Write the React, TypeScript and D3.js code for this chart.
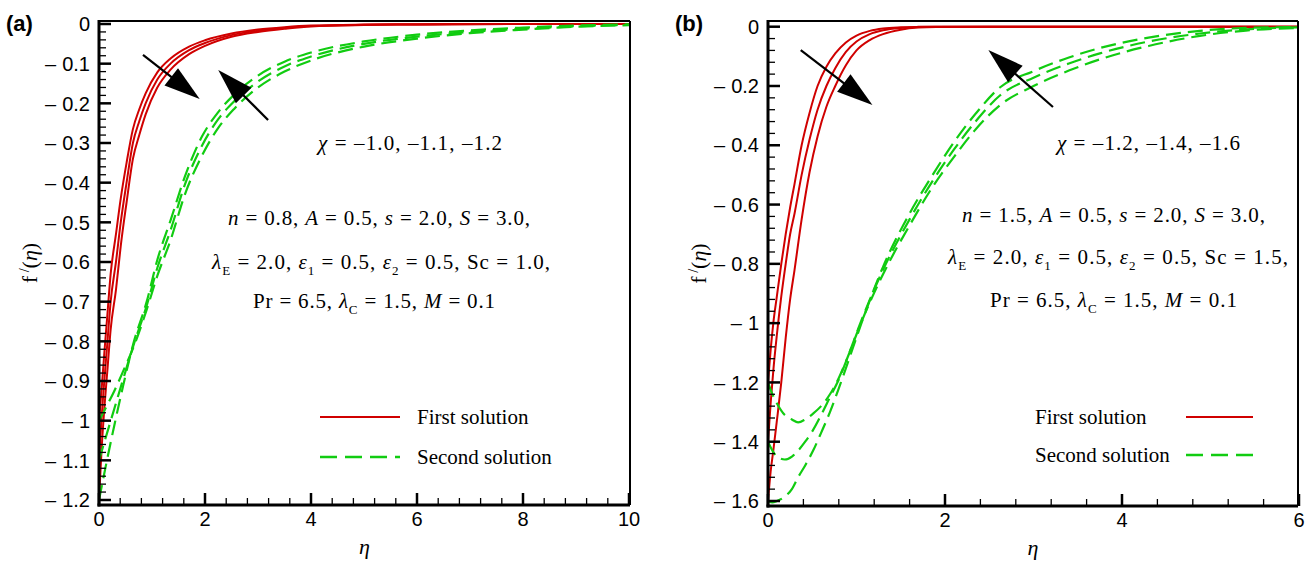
import React from "react";
import * as d3 from "d3";

// ---------------- DATA ----------------
// Panel (a): chi = -1.0, -1.1, -1.2
const etaRedA = [0, 0.05, 0.1, 0.16, 0.22, 0.32, 0.41, 0.52, 0.64, 0.76, 0.88, 1.1, 1.35, 1.7, 2.0, 2.5, 3.0, 3.5, 4, 5, 6, 8, 10];
const redA_m10 = [-1.0, -0.92, -0.83, -0.73, -0.63, -0.53, -0.44, -0.35, -0.265, -0.215, -0.175, -0.122, -0.087, -0.057, -0.041, -0.024, -0.014, -0.008, -0.004, -0.0015, -0.0007, 0, 0];
const redA_m11 = [-1.1, -0.99, -0.9, -0.8, -0.7, -0.6, -0.5, -0.4, -0.3, -0.245, -0.2, -0.14, -0.1, -0.066, -0.048, -0.028, -0.017, -0.01, -0.005, -0.002, -0.001, 0, 0];
const redA_m12 = [-1.2, -1.07, -0.97, -0.87, -0.77, -0.67, -0.56, -0.45, -0.34, -0.28, -0.228, -0.16, -0.115, -0.076, -0.055, -0.032, -0.02, -0.012, -0.006, -0.0025, -0.0012, 0, 0];

const etaGreenA = [0, 0.15, 0.3, 0.45, 0.65, 0.9, 1.1, 1.35, 1.62, 1.95, 2.25, 2.55, 3.0, 3.5, 4, 5, 6, 7, 8, 9, 10];
const greenA_m10 = [-1.0, -0.962, -0.922, -0.877, -0.815, -0.72, -0.635, -0.545, -0.43, -0.33, -0.262, -0.214, -0.16, -0.12, -0.092, -0.057, -0.037, -0.023, -0.014, -0.007, -0.003];
const greenA_m11 = [-1.1, -1.032, -0.965, -0.898, -0.81, -0.71, -0.615, -0.52, -0.405, -0.305, -0.24, -0.195, -0.145, -0.107, -0.082, -0.05, -0.032, -0.02, -0.012, -0.006, -0.002];
const greenA_m12 = [-1.2, -1.1, -1.005, -0.915, -0.805, -0.7, -0.595, -0.495, -0.385, -0.282, -0.222, -0.178, -0.13, -0.095, -0.072, -0.044, -0.027, -0.016, -0.009, -0.004, -0.001];

// Panel (b): chi = -1.2, -1.4, -1.6
const etaRedB = [0, 0.03, 0.06, 0.1, 0.15, 0.2, 0.25, 0.3, 0.38, 0.47, 0.56, 0.66, 0.76, 0.88, 1.0, 1.15, 1.3, 1.5, 1.7, 1.9, 2.5, 4, 6];
const redB_m12 = [-1.2, -1.09, -1.0, -0.91, -0.8, -0.7, -0.61, -0.53, -0.4, -0.29, -0.2, -0.135, -0.09, -0.053, -0.03, -0.014, -0.006, -0.002, -0.0005, 0, 0, 0, 0];
const redB_m14 = [-1.4, -1.27, -1.16, -1.04, -0.91, -0.8, -0.7, -0.63, -0.5, -0.38, -0.28, -0.2, -0.14, -0.085, -0.05, -0.025, -0.012, -0.004, -0.001, 0, 0, 0, 0];
const redB_m16 = [-1.6, -1.5, -1.43, -1.33, -1.2, -1.05, -0.92, -0.82, -0.65, -0.49, -0.37, -0.27, -0.2, -0.13, -0.08, -0.045, -0.025, -0.01, -0.003, -0.001, 0, 0, 0];

const etaGreenB = [0, 0.05, 0.1, 0.19, 0.27, 0.34, 0.42, 0.51, 0.6, 0.7, 0.8, 0.9, 1.05, 1.3, 1.6, 1.85, 2.1, 2.35, 2.62, 3.0, 3.4, 3.75, 4.3, 4.88, 5.4, 6.0];
const greenB_m12 = [-1.2, -1.24, -1.27, -1.31, -1.325, -1.335, -1.325, -1.305, -1.28, -1.24, -1.185, -1.115, -1.0, -0.835, -0.67, -0.545, -0.44, -0.345, -0.265, -0.2, -0.148, -0.11, -0.065, -0.031, -0.013, -0.004];
const greenB_m14 = [-1.4, -1.43, -1.45, -1.46, -1.45, -1.43, -1.4, -1.36, -1.31, -1.25, -1.19, -1.115, -0.995, -0.82, -0.65, -0.525, -0.415, -0.318, -0.232, -0.172, -0.124, -0.09, -0.05, -0.023, -0.009, -0.002];
const greenB_m16 = [-1.6, -1.605, -1.6, -1.585, -1.56, -1.52, -1.48, -1.43, -1.37, -1.3, -1.22, -1.135, -1.005, -0.81, -0.63, -0.505, -0.39, -0.292, -0.205, -0.15, -0.104, -0.072, -0.037, -0.014, -0.004, -0.001];

// Ticks
const xTicksA = [0, 2, 4, 6, 8, 10];
const yTicksA = [0, -0.1, -0.2, -0.3, -0.4, -0.5, -0.6, -0.7, -0.8, -0.9, -1, -1.1, -1.2];
const xTicksB = [0, 2, 4, 6];
const yTicksB = [0, -0.2, -0.4, -0.6, -0.8, -1, -1.2, -1.4, -1.6];

// Arrows in data units [tailEta, tailF, tipEta, tipF]
const arrowsA = [
  [0.83, -0.078, 1.9, -0.189],
  [3.19, -0.242, 2.25, -0.116],
];
const arrowsB = [
  [0.37, -0.079, 1.18, -0.264],
  [3.22, -0.271, 2.49, -0.079],
];

// Texts
type Seg = { t: string; i?: boolean; sub?: boolean };
const chiA: Seg[] = [{ t: "χ", i: true }, { t: " = –1.0, –1.1, –1.2" }];
const chiB: Seg[] = [{ t: "χ", i: true }, { t: " = –1.2, –1.4, –1.6" }];
const paramsA: Seg[][] = [
  [{ t: "n", i: true }, { t: " = 0.8, " }, { t: "A", i: true }, { t: " = 0.5, " }, { t: "s", i: true }, { t: " = 2.0, " }, { t: "S", i: true }, { t: " = 3.0," }],
  [{ t: "λ", i: true }, { t: "E", sub: true }, { t: " = 2.0, " }, { t: "ε", i: true }, { t: "1", sub: true }, { t: " = 0.5, " }, { t: "ε", i: true }, { t: "2", sub: true }, { t: " = 0.5, Sc = 1.0," }],
  [{ t: "Pr = 6.5,  " }, { t: "λ", i: true }, { t: "C", sub: true }, { t: " = 1.5, " }, { t: "M", i: true }, { t: " = 0.1" }],
];
const paramsB: Seg[][] = [
  [{ t: "n", i: true }, { t: " = 1.5, " }, { t: "A", i: true }, { t: " = 0.5, " }, { t: "s", i: true }, { t: " = 2.0, " }, { t: "S", i: true }, { t: " = 3.0," }],
  [{ t: "λ", i: true }, { t: "E", sub: true }, { t: " = 2.0, " }, { t: "ε", i: true }, { t: "1", sub: true }, { t: " = 0.5, " }, { t: "ε", i: true }, { t: "2", sub: true }, { t: " = 0.5, Sc = 1.5," }],
  [{ t: "Pr = 6.5,  " }, { t: "λ", i: true }, { t: "C", sub: true }, { t: " = 1.5,  " }, { t: "M", i: true }, { t: " = 0.1" }],
];
const legendLabels = ["First solution", "Second solution"];

// ---------------- STYLE ----------------
const RED = "#d00000";
const GREEN = "#11cc11";
const SERIF = "'Liberation Serif', 'Times New Roman', serif";
const SANS = "'Liberation Sans', Arial, Helvetica, sans-serif";
const DASH = "15,7";

function Rich({ x, y, segs, size, width }: { x: number; y: number; segs: Seg[]; size: number; width?: number }) {
  let shifted = false;
  const sh = size * 0.28;
  return (
    <text x={x} y={y} fontFamily={SERIF} fontSize={size} fill="#000" textLength={width} lengthAdjust="spacing">
      {segs.map((s, k) => {
        let dy = 0;
        if (s.sub && !shifted) { dy = sh; shifted = true; }
        else if (!s.sub && shifted) { dy = -sh; shifted = false; }
        return (
          <tspan key={k} dy={dy || undefined} fontStyle={s.i ? "italic" : "normal"} fontSize={s.sub ? size * 0.62 : size}>
            {s.t}
          </tspan>
        );
      })}
    </text>
  );
}

function Arrow({ x1, y1, x2, y2 }: { x1: number; y1: number; x2: number; y2: number }) {
  const dx = x2 - x1, dy = y2 - y1;
  const L = Math.hypot(dx, dy);
  const ux = dx / L, uy = dy / L;
  const hl = 36, hw = 11;
  const bx = x2 - ux * hl, by = y2 - uy * hl;
  const px = -uy, py = ux;
  return (
    <g>
      <line x1={x1} y1={y1} x2={bx + ux * 4} y2={by + uy * 4} stroke="#000" strokeWidth={2.2} />
      <polygon points={`${x2},${y2} ${bx + px * hw},${by + py * hw} ${bx - px * hw},${by - py * hw}`} fill="#000" />
    </g>
  );
}

type PanelProps = {
  id: string;
  label: string;
  left: number; right: number; top: number; bottom: number;
  xDomain: [number, number]; xRange: [number, number];
  yDomain: [number, number]; yRange: [number, number];
  xTicks: number[]; yTicks: number[]; xMinor: number; yMinor: number;
  red: { eta: number[]; series: number[][] };
  green: { eta: number[]; series: number[][] };
  arrows: number[][];
  chi: Seg[]; chiPos: [number, number, number];
  params: Seg[][]; paramPos: [number, number, number][];
  legend: { lineX: [number, number]; textX: number; ys: [number, number] };
};

function Panel(p: PanelProps) {
  const x = d3.scaleLinear().domain(p.xDomain).range(p.xRange);
  const y = d3.scaleLinear().domain(p.yDomain).range(p.yRange);
  const line = d3.line<[number, number]>().x((d) => x(d[0])).y((d) => y(d[1])).curve(d3.curveMonotoneX);
  const mk = (eta: number[], vals: number[]) => line(eta.map((e, i) => [e, vals[i]] as [number, number])) || "";
  const xMinorTicks = d3.range(p.xDomain[0], p.xDomain[1] + 1e-9, p.xMinor).filter((v) => !p.xTicks.some((t) => Math.abs(t - v) < 1e-6));
  const yMin = Math.min(...p.yTicks);
  const yMinorTicks = d3.range(0, yMin - 1e-9, -p.yMinor).filter((v) => !p.yTicks.some((t) => Math.abs(t - v) < 1e-6));
  const clipId = "clip-" + p.id;
  const axW = 3;
  return (
    <g>
      <defs>
        <clipPath id={clipId}>
          <rect x={p.left} y={p.top} width={p.right - p.left} height={p.bottom - p.top} />
        </clipPath>
      </defs>
      <g clipPath={`url(#${clipId})`}>
        {p.red.series.map((s, k) => (
          <path key={"r" + k} d={mk(p.red.eta, s)} fill="none" stroke={RED} strokeWidth={2} />
        ))}
        {p.green.series.map((s, k) => (
          <path key={"g" + k} d={mk(p.green.eta, s)} fill="none" stroke={GREEN} strokeWidth={2.2} strokeDasharray={DASH} />
        ))}
      </g>
      {/* frame */}
      <line x1={p.left} y1={p.top} x2={p.right} y2={p.top} stroke="#000" strokeWidth={2} />
      <line x1={p.right} y1={p.top} x2={p.right} y2={p.bottom} stroke="#000" strokeWidth={2} />
      <line x1={p.left} y1={p.top - 1} x2={p.left} y2={p.bottom + 1.5} stroke="#000" strokeWidth={axW} />
      <line x1={p.left - 1.5} y1={p.bottom} x2={p.right} y2={p.bottom} stroke="#000" strokeWidth={axW} />
      {/* y ticks */}
      {p.yTicks.map((v) => (
        <g key={"yt" + v}>
          <line x1={p.left} x2={p.left + 12} y1={y(v)} y2={y(v)} stroke="#000" strokeWidth={2.5} />
          <text x={p.left - 9} y={y(v)} dy="0.36em" textAnchor="end" fontFamily={SANS} fontSize={20}>
            {v === 0 ? "0" : (
              <>
                <tspan>–</tspan>
                <tspan dx={6}>{String(Math.abs(v))}</tspan>
              </>
            )}
          </text>
        </g>
      ))}
      {yMinorTicks.map((v) => (
        <line key={"ym" + v} x1={p.left} x2={p.left + 7} y1={y(v)} y2={y(v)} stroke="#000" strokeWidth={1.3} />
      ))}
      {/* x ticks */}
      {p.xTicks.map((v) => (
        <g key={"xt" + v}>
          <line x1={x(v)} x2={x(v)} y1={p.bottom} y2={p.bottom - 12} stroke="#000" strokeWidth={2.5} />
          <text x={x(v)} y={p.bottom + 21} textAnchor="middle" fontFamily={SANS} fontSize={20}>{String(v)}</text>
        </g>
      ))}
      {xMinorTicks.map((v) => (
        <line key={"xm" + v} x1={x(v)} x2={x(v)} y1={p.bottom} y2={p.bottom - 7} stroke="#000" strokeWidth={1.3} />
      ))}
      {/* axis titles */}
      <text x={(p.left + p.right) / 2} y={p.bottom + 49} textAnchor="middle" fontFamily={SERIF} fontStyle="italic" fontSize={22}>η</text>
      <text transform={`translate(${p.left - 62},${(p.top + p.bottom) / 2}) rotate(-90)`} textAnchor="middle" fontFamily={SERIF} fontSize={22}>
        <tspan>f</tspan>
        <tspan fontSize={14} dy={-8}> /</tspan>
        <tspan dy={8}>(</tspan>
        <tspan fontStyle="italic">η</tspan>
        <tspan>)</tspan>
      </text>
      {/* panel label */}
      <text x={p.left - 93} y={p.top + 10} fontFamily={SANS} fontWeight="bold" fontSize={22}>{p.label}</text>
      {/* arrows */}
      {p.arrows.map((a, k) => (
        <Arrow key={"a" + k} x1={x(a[0])} y1={y(a[1])} x2={x(a[2])} y2={y(a[3])} />
      ))}
      {/* annotations */}
      <Rich x={p.chiPos[0]} y={p.chiPos[1]} width={p.chiPos[2]} segs={p.chi} size={21} />
      {p.params.map((s, k) => (
        <Rich key={"p" + k} x={p.paramPos[k][0]} y={p.paramPos[k][1]} width={p.paramPos[k][2]} segs={s} size={21} />
      ))}
      {/* legend */}
      <line x1={p.legend.lineX[0]} x2={p.legend.lineX[1]} y1={p.legend.ys[0]} y2={p.legend.ys[0]} stroke={RED} strokeWidth={2.2} />
      <line x1={p.legend.lineX[0]} x2={p.legend.lineX[1]} y1={p.legend.ys[1]} y2={p.legend.ys[1]} stroke={GREEN} strokeWidth={2.4} strokeDasharray="17,8" />
      {legendLabels.map((t, k) => (
        <text key={"l" + k} x={p.legend.textX} y={p.legend.ys[k]} dy="0.33em" fontFamily={SERIF} fontSize={21}>{t}</text>
      ))}
    </g>
  );
}

export default function App() {
  return (
    <svg width={1314} height={562} viewBox="0 0 1314 562" style={{ position: "absolute", left: 0, top: 0, background: "#fff" }}>
      <rect width={1314} height={562} fill="#fff" />
      <Panel
        id="a" label="(a)"
        left={99} right={630} top={21} bottom={505}
        xDomain={[0, 10]} xRange={[99, 629]}
        yDomain={[0, -1.2]} yRange={[24, 500]}
        xTicks={xTicksA} yTicks={yTicksA} xMinor={0.4} yMinor={0.02}
        red={{ eta: etaRedA, series: [redA_m10, redA_m11, redA_m12] }}
        green={{ eta: etaGreenA, series: [greenA_m10, greenA_m11, greenA_m12] }}
        arrows={arrowsA}
        chi={chiA} chiPos={[318, 150, 184]}
        params={paramsA} paramPos={[[228, 225, 302], [212, 269, 338], [253, 308, 242]]}
        legend={{ lineX: [320, 400], textX: 417, ys: [417, 457] }}
      />
      <Panel
        id="b" label="(b)"
        left={768} right={1298} top={21} bottom={506}
        xDomain={[0, 6]} xRange={[768, 1299]}
        yDomain={[0, -1.6]} yRange={[26.7, 501]}
        xTicks={xTicksB} yTicks={yTicksB} xMinor={0.4} yMinor={0.04}
        red={{ eta: etaRedB, series: [redB_m12, redB_m14, redB_m16] }}
        green={{ eta: etaGreenB, series: [greenB_m12, greenB_m14, greenB_m16] }}
        arrows={arrowsB}
        chi={chiB} chiPos={[1057, 150, 183]}
        params={paramsB} paramPos={[[962, 222, 303], [948, 264, 340], [990, 307, 247]]}
        legend={{ lineX: [1186, 1253], textX: 1035, ys: [417, 455] }}
      />
    </svg>
  );
}
